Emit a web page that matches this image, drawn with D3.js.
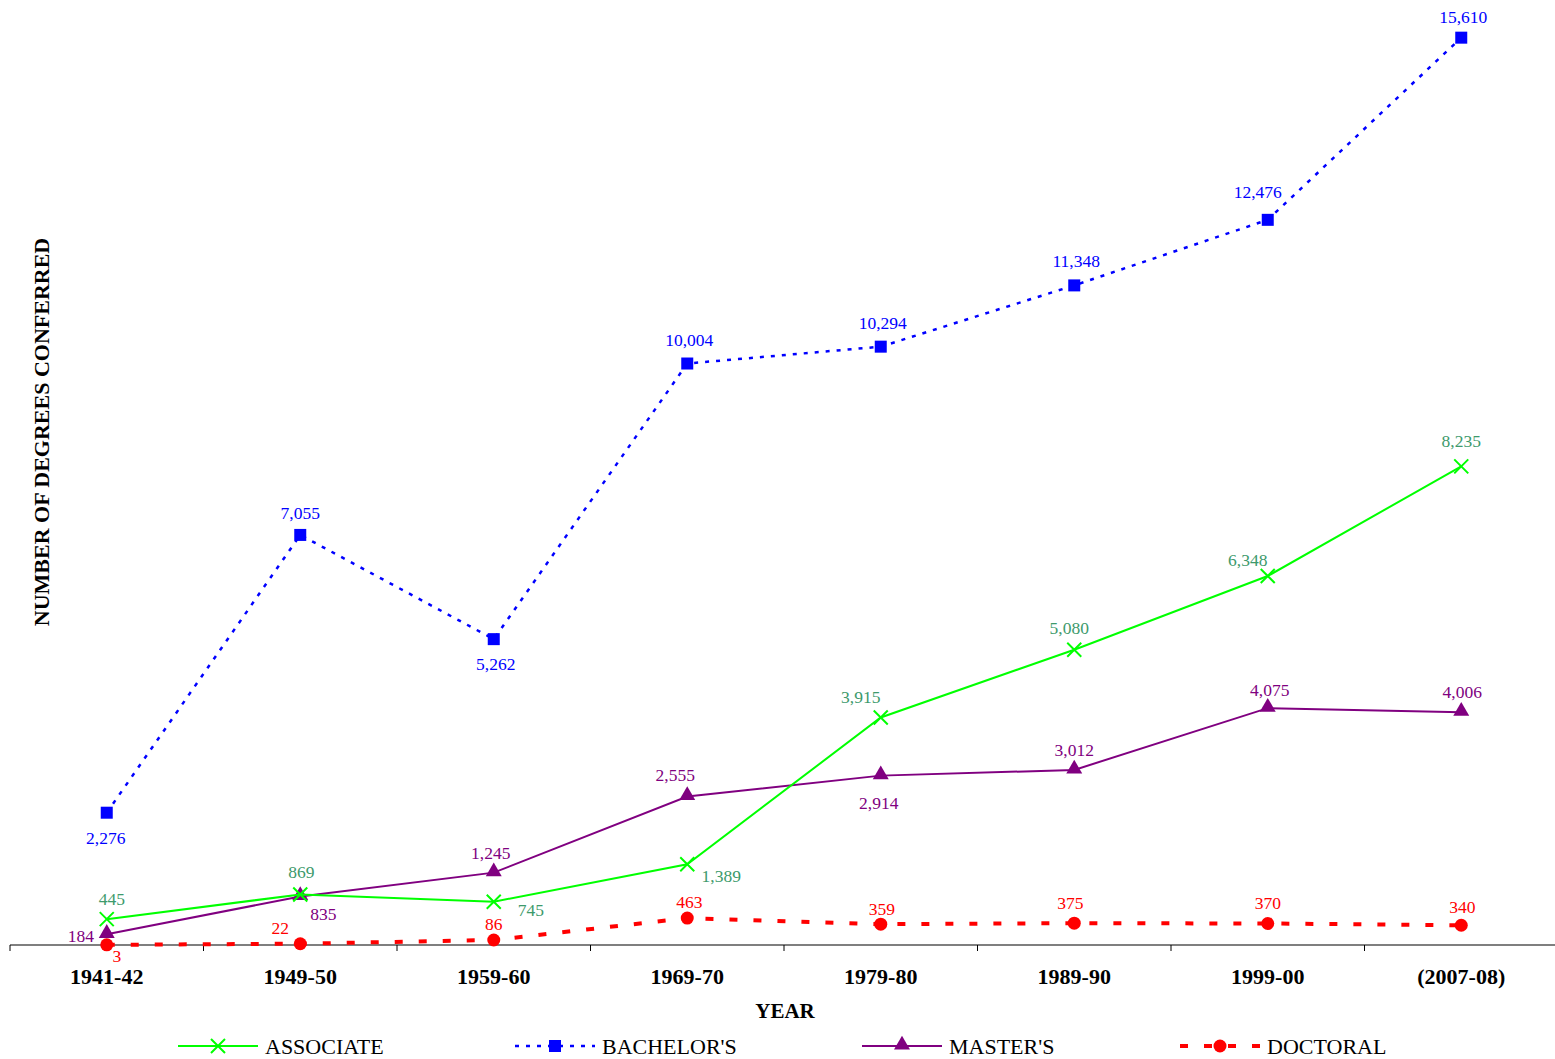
<!DOCTYPE html>
<html>
<head>
<meta charset="utf-8">
<script src="https://cdnjs.cloudflare.com/ajax/libs/d3/7.8.5/d3.min.js"></script>
<style>
  body { margin: 0; background: #fff; }
  text { font-family: "Liberation Serif", "Times New Roman", serif; }
  .tick_label { font-size: 22px; font-weight: bold; }
  .axis_title { font-size: 21px; font-weight: bold; }
  .y_title { font-size: 22px; font-weight: bold; }
  .value_label { font-size: 17.5px; }
  .legend_text { font-size: 22px; }
</style>
</head>
<body>
<div id="chart"></div>
<script>
var years = ["1941-42", "1949-50", "1959-60", "1969-70", "1979-80", "1989-90", "1999-00", "(2007-08)"]

var associate = [445, 869, 745, 1389, 3915, 5080, 6348, 8235]
var bachelors = [2276, 7055, 5262, 10004, 10294, 11348, 12476, 15610]
var masters = [184, 835, 1245, 2555, 2914, 3012, 4075, 4006]
var doctoral = [3, 22, 86, 463, 359, 375, 370, 340]

var seriesNames = ["ASSOCIATE", "BACHELOR'S", "MASTER'S", "DOCTORAL"]

// label offsets from the point (dx, dy), picked by eye
var labelOffsets = {
  "ASSOCIATE": [[5, -20], [1, -22], [37, 8], [34, 12], [-20, -20], [-5, -22], [-20, -16], [0, -25]],
  "BACHELOR'S": [[-1, 25], [0, -22], [2, 25], [2, -24], [2, -24], [2, -24], [-10, -28], [2, -21]],
  "MASTER'S": [[-26, 2], [23, 18], [-3, -20], [-12, -21], [-2, 27], [0, -20], [2, -18], [1, -20]],
  "DOCTORAL": [[10, 11], [-20, -16], [0, -16], [2, -16], [1, -15], [-4, -20], [0, -20], [1, -18]]
}

var width = 1555, height = 1059

var svg = d3.select("#chart").append("svg")
  .attr("width", width)
  .attr("height", height)

var x = d3.scaleBand()
  .domain(years)
  .range([10, 1558])

var y = d3.scaleLinear()
  .domain([0, 16000])
  .range([945, 15])

function cx(i) { return x(years[i]) + x.bandwidth() / 2 }

// x axis
var axis = svg.append("g")
axis.append("line")
  .attr("x1", 10).attr("x2", width)
  .attr("y1", y(0)).attr("y2", y(0))
  .attr("stroke", "#000").attr("stroke-width", 1.2)
axis.selectAll("line.tick")
  .data(years)
  .enter().append("line")
  .attr("class", "tick")
  .attr("x1", function (d) { return x(d) })
  .attr("x2", function (d) { return x(d) })
  .attr("y1", y(0)).attr("y2", y(0) + 6)
  .attr("stroke", "#000").attr("stroke-width", 1)
axis.selectAll("text.tick_label")
  .data(years)
  .enter().append("text")
  .attr("class", "tick_label")
  .attr("x", function (d) { return x(d) + x.bandwidth() / 2 })
  .attr("y", 984)
  .attr("text-anchor", "middle")
  .text(function (d) { return d })

svg.append("text")
  .attr("class", "axis_title")
  .attr("x", 785).attr("y", 1018)
  .attr("text-anchor", "middle")
  .text("YEAR")

svg.append("text")
  .attr("class", "y_title")
  .attr("transform", "translate(49,432) rotate(-90)")
  .attr("text-anchor", "middle")
  .text("NUMBER OF DEGREES CONFERRED")

var styles = {
  "ASSOCIATE": { values: associate, line: "#00ff00", label: "#3d9a6c", width: 2, dash: null, marker: "cross" },
  "BACHELOR'S": { values: bachelors, line: "#0000ff", label: "#0000ff", width: 2.5, dash: "4 7", marker: "square" },
  "MASTER'S": { values: masters, line: "#800080", label: "#800080", width: 2, dash: null, marker: "triangle" },
  "DOCTORAL": { values: doctoral, line: "#ff0000", label: "#ff0000", width: 4, dash: "8 16", marker: "circle" }
}

var line = d3.line()
  .x(function (d, i) { return cx(i) })
  .y(function (d) { return y(d) })

function drawMarker(g, kind, px, py, colour) {
  if (kind == "cross") {
    g.append("path")
      .attr("d", "M" + (px - 7) + "," + (py - 7) + "L" + (px + 7) + "," + (py + 7) +
        "M" + (px - 7) + "," + (py + 7) + "L" + (px + 7) + "," + (py - 7))
      .attr("stroke", colour).attr("stroke-width", 2).attr("fill", "none")
  } else if (kind == "square") {
    g.append("rect")
      .attr("x", px - 6).attr("y", py - 6)
      .attr("width", 12).attr("height", 12)
      .attr("fill", colour)
  } else if (kind == "triangle") {
    g.append("path")
      .attr("d", d3.symbol().type(d3.symbolTriangle).size(110)())
      .attr("transform", "translate(" + px + "," + (py - 1) + ")")
      .attr("fill", colour)
  } else {
    g.append("circle")
      .attr("cx", px).attr("cy", py).attr("r", 6.5)
      .attr("fill", colour)
  }
}

// draw back to front
var order = ["DOCTORAL", "BACHELOR'S", "MASTER'S", "ASSOCIATE"]
order.forEach(function (name) {
  var s = styles[name]
  var g = svg.append("g").attr("class", "series")
  g.append("path")
    .attr("d", line(s.values))
    .attr("fill", "none")
    .attr("stroke", s.line)
    .attr("stroke-width", s.width)
    .attr("stroke-dasharray", s.dash)
  s.values.forEach(function (v, i) {
    drawMarker(g, s.marker, cx(i), y(v), s.line)
  })
})

// value labels on top
seriesNames.forEach(function (name) {
  var s = styles[name]
  var offs = labelOffsets[name]
  svg.append("g").selectAll("text")
    .data(s.values)
    .enter().append("text")
    .attr("class", "value_label")
    .attr("x", function (d, i) { return cx(i) + offs[i][0] })
    .attr("y", function (d, i) { return y(d) + offs[i][1] })
    .attr("dy", 6)
    .attr("text-anchor", "middle")
    .attr("fill", s.label)
    .text(function (d) { return d3.format(",")(d) })
})

// legend
var legendX = [178, 515, 862, 1180]
var legend = svg.append("g")
seriesNames.forEach(function (name, i) {
  var s = styles[name]
  var lx = legendX[i], ly = 1046
  legend.append("line")
    .attr("x1", lx).attr("x2", lx + 80)
    .attr("y1", ly).attr("y2", ly)
    .attr("stroke", s.line)
    .attr("stroke-width", s.width)
    .attr("stroke-dasharray", s.dash)
  drawMarker(legend, s.marker, lx + 40, ly, s.line)
  legend.append("text")
    .attr("class", "legend_text")
    .attr("x", lx + 87).attr("y", ly + 8)
    .text(name)
})
</script>
</body>
</html>
